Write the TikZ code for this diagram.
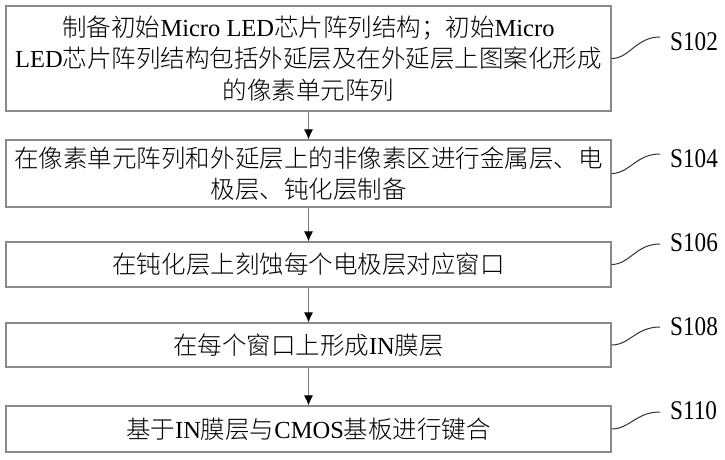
\documentclass[tikz,border=0pt]{standalone}
\usepackage{fontspec}
\usetikzlibrary{arrows.meta}
\setmainfont{Noto Sans CJK SC}[UprightFont={* Light}]
\newfontfamily\latf{Liberation Serif}
\newfontfamily\labf[FakeStretch=0.86]{Liberation Serif}
\newcommand\lt[1]{{\latf #1}}
\definecolor{boxgray}{HTML}{8A8A8A}
\definecolor{linegray}{HTML}{7A7A7A}
\definecolor{taggray}{HTML}{333333}
\begin{document}
\begin{tikzpicture}[x=1bp,y=-1bp,
  stepbox/.style={draw=boxgray, line width=1.2bp, minimum width=605bp, inner sep=0pt, align=center,
    font=\fontsize{24.5bp}{31.5bp}\selectfont},
  flow/.style={draw=linegray, line width=1bp, -{Latex[length=10bp,width=9bp,color=black]}},
  tag/.style={draw=taggray, line width=1bp},
  tagtext/.style={anchor=west, inner sep=0pt, font=\labf\fontsize{27bp}{27bp}\selectfont}]
\useasboundingbox[fill=white] (0,0) rectangle (725,460);

\node[stepbox, minimum height=105bp] (b1) at (308.5,58.5)
  {制备初始\lt{Micro LED}芯片阵列结构；初始\lt{Micro}\\
   \lt{LED}芯片阵列结构包括外延层及在外延层上图案化形成\\
   的像素单元阵列};
\node[stepbox, minimum height=67bp] (b2) at (308.5,173.5)
  {在像素单元阵列和外延层上的非像素区进行金属层、电\\
   极层、钝化层制备};
\node[stepbox, minimum height=45bp] (b3) at (308.5,264.5)
  {在钝化层上刻蚀每个电极层对应窗口};
\node[stepbox, minimum height=44bp] (b4) at (308.5,345)
  {在每个窗口上形成\lt{IN}膜层};
\node[stepbox, minimum height=46bp] (b5) at (308.5,429)
  {基于\lt{IN}膜层与\lt{CMOS}基板进行键合};

\draw[flow] (b1) -- (b2);
\draw[flow] (b2) -- (b3);
\draw[flow] (b3) -- (b4);
\draw[flow] (b4) -- (b5);

\coordinate (t1) at (660,37);
\coordinate (t2) at (660,154);
\coordinate (t3) at (660,244);
\coordinate (t4) at (660,327);
\coordinate (t5) at (660,412);

\draw[tag] (b1.east) .. controls +(18,0) and +(-24,0) .. (t1);
\draw[tag] (b2.east) .. controls +(18,0) and +(-24,0) .. (t2);
\draw[tag] (b3.east) .. controls +(18,0) and +(-24,0) .. (t3);
\draw[tag] (b4.east) .. controls +(18,0) and +(-24,0) .. (t4);
\draw[tag] (b5.east) .. controls +(18,0) and +(-24,0) .. (t5);

\node[tagtext] (l1) at (670,42) {S102};
\node[tagtext] (l2) at (670,159) {S104};
\node[tagtext] (l3) at (670,243) {S106};
\node[tagtext] (l4) at (670,327) {S108};
\node[tagtext] (l5) at (670,411) {S110};
\end{tikzpicture}
\end{document}
